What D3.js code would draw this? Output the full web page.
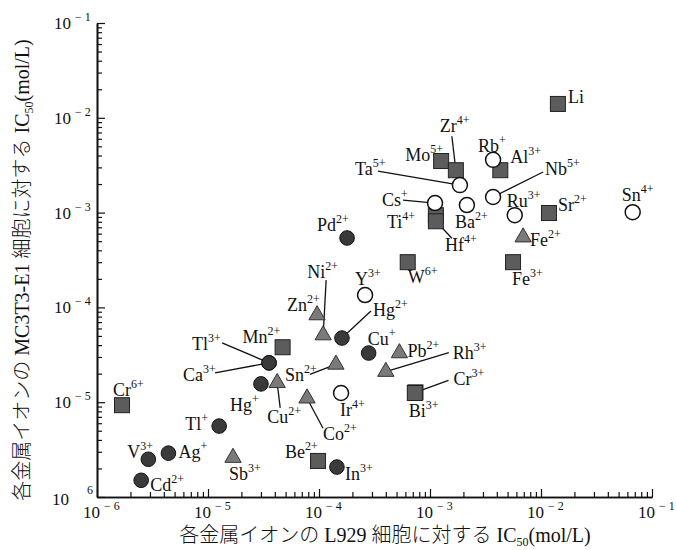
<!doctype html>
<html lang="ja">
<head>
<meta charset="utf-8">
<title>IC50 L929 vs MC3T3-E1</title>
<script src="https://cdn.jsdelivr.net/npm/d3@7"></script>
<style>
  body { margin: 0; background: #fff; }
  svg text { font-family: "Liberation Serif", "Noto Sans CJK JP", serif; fill: #111; }
  .title { font-weight: 300; }
</style>
</head>
<body>
<div id="chart"></div>
<script>
// IC50 values (mol/L)
var ions = ["Li", "Mo5+", "Zr4+", "Al3+", "Ti4+", "Hf4+", "Sr2+", "Fe3+", "W6+", "Mn2+", "Cr6+", "Cr3+", "Bi3+", "Be2+",
  "Pd2+", "Hg2+", "Cu+", "Tl3+", "Ca3+", "Hg+", "Tl+", "V3+", "Ag+", "Cd2+", "In3+",
  "Fe2+", "Zn2+", "Ni2+", "Sn2+", "Pb2+", "Rh3+", "Cu2+", "Co2+", "Sb3+",
  "Rb+", "Ta5+", "Cs+", "Ba2+", "Nb5+", "Ru3+", "Sn4+", "Y3+", "Ir4+"];
var icL929 = [1.42e-2, 1.26e-3, 1.71e-3, 4.3e-3, 1.13e-3, 1.13e-3, 1.18e-2, 5.6e-3, 6.3e-4, 4.7e-5, 1.68e-6, 7.4e-4, 7.3e-4, 9.8e-5,
  1.79e-4, 1.61e-4, 2.8e-4, 3.55e-5, 3.55e-5, 3.0e-5, 1.26e-5, 2.9e-6, 4.4e-6, 2.5e-6, 1.45e-4,
  6.9e-3, 9.6e-5, 1.09e-4, 1.42e-4, 5.3e-4, 4.0e-4, 4.2e-5, 7.8e-5, 1.68e-5,
  3.7e-3, 1.86e-3, 1.11e-3, 2.15e-3, 3.7e-3, 5.8e-3, 6.7e-2, 2.6e-4, 1.58e-4];
var icMC3T3 = [1.4e-2, 3.5e-3, 2.8e-3, 2.8e-3, 9.4e-4, 8.1e-4, 9.9e-4, 3.0e-4, 3.0e-4, 3.8e-5, 9.3e-6, 1.27e-5, 1.25e-5, 2.4e-6,
  5.4e-4, 4.75e-5, 3.3e-5, 2.6e-5, 2.6e-5, 1.56e-5, 5.6e-6, 2.5e-6, 2.9e-6, 1.5e-6, 2.07e-6,
  5.5e-4, 8.3e-5, 5.1e-5, 2.5e-5, 3.3e-5, 2.1e-5, 1.6e-5, 1.1e-5, 2.6e-6,
  3.6e-3, 1.95e-3, 1.26e-3, 1.2e-3, 1.46e-3, 9.4e-4, 1.01e-3, 1.35e-4, 1.25e-5];
var markerType = ["sq", "sq", "sq", "sq", "sq", "sq", "sq", "sq", "sq", "sq", "sq", "sq", "sq", "sq",
  "dot", "dot", "dot", "dot", "dot", "dot", "dot", "dot", "dot", "dot", "dot",
  "tri", "tri", "tri", "tri", "tri", "tri", "tri", "tri", "tri",
  "open", "open", "open", "open", "open", "open", "open", "open", "open"];
var tickExp = [-6, -5, -4, -3, -2, -1];

// label placement (px offset from the marker) and leader line start
var labelPos = {
  "Li": [10, -1], "Mo5+": [-36, 0], "Zr4+": [-16, -38], "Al3+": [10, -7], "Ti4+": [-49, 13], "Hf4+": [9, 30],
  "Sr2+": [9, -2], "Fe3+": [-1, 23], "W6+": [0, 21], "Mn2+": [-40, -4], "Cr6+": [-9, -9], "Cr3+": [38, -7],
  "Bi3+": [-6, 24], "Be2+": [-33, -3], "Pd2+": [-30, -7], "Hg2+": [31, -22], "Cu+": [-1, -8], "Tl3+": [-77, -13],
  "Ca3+": [-86, 18], "Hg+": [-31, 27], "Tl+": [-34, 4], "V3+": [-21, -1], "Ag+": [10, 5], "Cd2+": [9, 11],
  "In3+": [8, 13], "Fe2+": [7, 9], "Zn2+": [-30, -4], "Ni2+": [-16, -57], "Sn2+": [-51, 17], "Pb2+": [8, 4],
  "Rh3+": [67, -13], "Cu2+": [-10, 40], "Co2+": [16, 42], "Sb3+": [-4, 22], "Rb+": [-15, -8], "Ta5+": [-105, -10],
  "Cs+": [-53, 3], "Ba2+": [-12, 23], "Nb5+": [52, -22], "Ru3+": [-8, -8], "Sn4+": [-11, -11], "Y3+": [-10, -10],
  "Ir4+": [-1, 23]
};
var leaders = {
  "Zr4+": [-4, -34], "Nb5+": [50, -25], "Ta5+": [-82, -14], "Cs+": [-32, -3], "Hf4+": [16, 17], "Ni2+": [3, -55],
  "Hg2+": [29, -27], "Rh3+": [63, -19], "Cr3+": [33, -12], "Tl3+": [-47, -20], "Ca3+": [-54, 10], "Sn2+": [-26, 10],
  "Cu2+": [3, 25], "Co2+": [16, 30]
};

var width = 676, height = 550;
var svg = d3.select("#chart").append("svg")
  .attr("width", width).attr("height", height);

var x = d3.scaleLog().domain([1e-6, 1e-1]).range([97, 652]);
var y = d3.scaleLog().domain([1e-6, 1e-1]).range([497, 23]);

var majors = tickExp.map(function (e) { return Math.pow(10, e); });
var minors = [];
tickExp.slice(0, -1).forEach(function (e) {
  for (var k = 2; k < 10; k++) minors.push(k * Math.pow(10, e));
});

// axes, ticks pointing inwards
function styleAxis(g) {
  g.selectAll("path.domain").attr("stroke", "#111").attr("stroke-width", 1.6);
  g.selectAll(".tick line").attr("stroke", "#111").attr("stroke-width", 1.2);
}
svg.append("g").attr("transform", "translate(0,497)")
  .call(d3.axisBottom(x).tickValues(minors).tickSize(-5).tickSizeOuter(0).tickFormat(""))
  .call(styleAxis);
svg.append("g").attr("transform", "translate(0,497)")
  .call(d3.axisBottom(x).tickValues(majors).tickSize(-8).tickSizeOuter(0).tickFormat(""))
  .call(styleAxis);
svg.append("g").attr("transform", "translate(97,0)")
  .call(d3.axisLeft(y).tickValues(minors).tickSize(-5).tickSizeOuter(0).tickFormat(""))
  .call(styleAxis);
svg.append("g").attr("transform", "translate(97,0)")
  .call(d3.axisLeft(y).tickValues(majors).tickSize(-8).tickSizeOuter(0).tickFormat(""))
  .call(styleAxis);

// tick labels 10^n
var xl = svg.append("g");
majors.forEach(function (v, i) {
  var px = x(v);
  xl.append("text").attr("x", px + 3).attr("y", 518).attr("text-anchor", "end")
    .style("font-size", "17px").text("10");
  xl.append("text").attr("x", px + 7).attr("y", 510)
    .style("font-size", "12px").text("\u2212 " + Math.abs(tickExp[i]));
});
var yl = svg.append("g");
majors.forEach(function (v, i) {
  var py = y(v);
  if (i === 0) {
    yl.append("text").attr("x", 69).attr("y", 505).attr("text-anchor", "end")
      .style("font-size", "17px").text("10");
    yl.append("text").attr("x", 87).attr("y", 494)
      .style("font-size", "12px").text("6");
    return;
  }
  yl.append("text").attr("x", 71).attr("y", py + 6).attr("text-anchor", "end")
    .style("font-size", "17px").text("10");
  yl.append("text").attr("x", 75).attr("y", py - 2)
    .style("font-size", "12px").text("\u2212 " + Math.abs(tickExp[i]));
});

// axis titles
var xt = svg.append("text").attr("class", "title").attr("x", 385).attr("y", 542).attr("text-anchor", "middle")
  .style("font-size", "20px");
xt.append("tspan").text("各金属イオンの L929 細胞に対する IC");
xt.append("tspan").style("font-size", "12px").attr("dy", 4).text("50");
xt.append("tspan").attr("dy", -4).text("(mol/L)");

var yt = svg.append("text").attr("class", "title").attr("transform", "translate(29,270) rotate(-90)")
  .attr("text-anchor", "middle").style("font-size", "20px");
yt.append("tspan").text("各金属イオンの MC3T3-E1 細胞に対する IC");
yt.append("tspan").style("font-size", "12px").attr("dy", 4).text("50");
yt.append("tspan").attr("dy", -4).text("(mol/L)");

var pts = ions.map(function (name, i) {
  return { name: name, px: x(icL929[i]), py: y(icMC3T3[i]), type: markerType[i] };
});

// leader lines under the markers
svg.append("g").selectAll("line")
  .data(pts.filter(function (d) { return leaders[d.name]; }))
  .enter().append("line")
  .attr("x1", function (d) { return d.px + leaders[d.name][0]; })
  .attr("y1", function (d) { return d.py + leaders[d.name][1]; })
  .attr("x2", function (d) { return d.px; })
  .attr("y2", function (d) { return d.py; })
  .attr("stroke", "#111").attr("stroke-width", 1.3);

var mk = svg.append("g");
mk.selectAll("rect").data(pts.filter(function (d) { return d.type === "sq"; }))
  .enter().append("rect")
  .attr("x", function (d) { return d.px - 7.5; })
  .attr("y", function (d) { return d.py - 7.5; })
  .attr("width", 15).attr("height", 15)
  .attr("fill", "#5c5c5c").attr("stroke", "#222").attr("stroke-width", 1);
mk.selectAll("circle.dot").data(pts.filter(function (d) { return d.type === "dot"; }))
  .enter().append("circle").attr("class", "dot")
  .attr("cx", function (d) { return d.px; })
  .attr("cy", function (d) { return d.py; })
  .attr("r", 7.3)
  .attr("fill", "#3a3a3a").attr("stroke", "#111").attr("stroke-width", 1);
mk.selectAll("path.tri").data(pts.filter(function (d) { return d.type === "tri"; }))
  .enter().append("path").attr("class", "tri")
  .attr("d", d3.symbol().type(d3.symbolTriangle).size(115))
  .attr("transform", function (d) { return "translate(" + d.px + "," + d.py + ")"; })
  .attr("fill", "#7a7a7a").attr("stroke", "#333").attr("stroke-width", 1);
mk.selectAll("circle.open").data(pts.filter(function (d) { return d.type === "open"; }))
  .enter().append("circle").attr("class", "open")
  .attr("cx", function (d) { return d.px; })
  .attr("cy", function (d) { return d.py; })
  .attr("r", 7.5)
  .attr("fill", "#fff").attr("stroke", "#111").attr("stroke-width", 1.5);

// ion labels with superscript charge
var lab = svg.append("g");
pts.forEach(function (d) {
  var m = d.name.match(/^([A-Z][a-z]?)(.*)$/);
  var off = labelPos[d.name];
  var t = lab.append("text")
    .attr("x", d.px + off[0]).attr("y", d.py + off[1])
    .style("font-size", "18px");
  t.append("tspan").text(m[1]);
  if (m[2]) t.append("tspan").attr("dy", -8).style("font-size", "12px").text(m[2]);
});
</script>
</body>
</html>
